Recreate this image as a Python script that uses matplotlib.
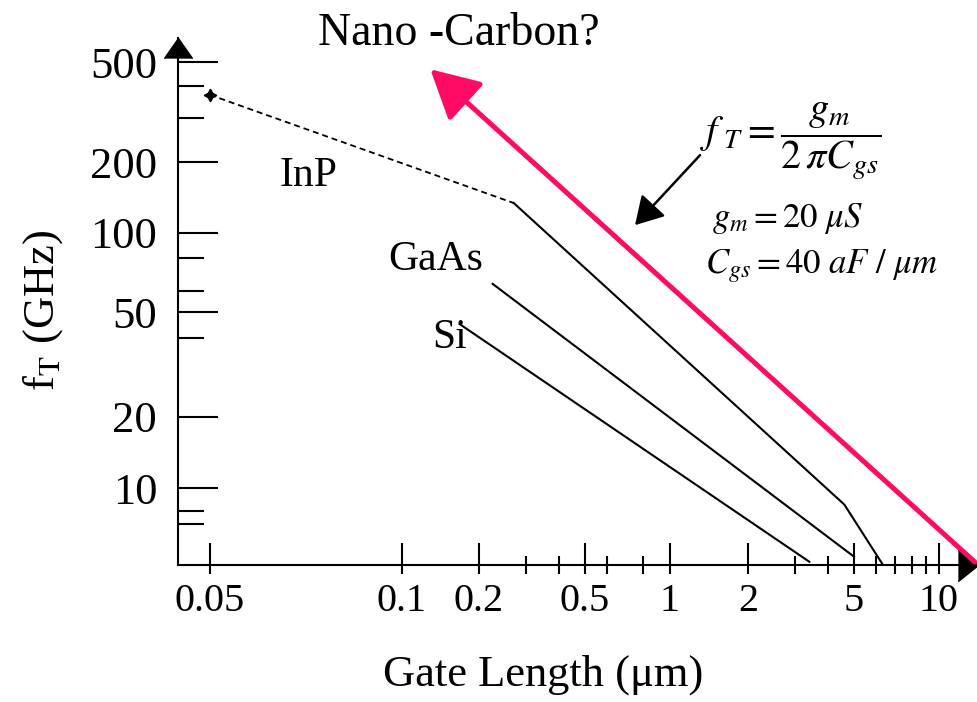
import numpy as np
import matplotlib
matplotlib.use("Agg")
import matplotlib.pyplot as plt

plt.rcParams['font.family'] = ['Liberation Serif', 'DejaVu Serif']
plt.rcParams['mathtext.fontset'] = 'stix'

# ---------------- data ----------------
x_tick_values = [0.05, 0.1, 0.2, 0.5, 1, 2, 5, 10]
x_tick_labels = ["0.05", "0.1", "0.2", "0.5", "1", "2", "5", "10"]
x_minor_values = [0.3, 0.4, 0.6, 0.8, 3, 4, 6, 7, 8, 9]
y_tick_values = [10, 20, 50, 100, 200, 500]
y_tick_labels = ["10", "20", "50", "100", "200", "500"]
y_minor_values = [7, 8, 40, 60, 80, 300, 400]

inp_dash_x = [0.05, 0.27]
inp_dash_y = [370, 134]
inp_solid_x = [0.27, 4.6, 6.3]
inp_solid_y = [134, 8.5, 4.75]
gaas_x = [0.225, 5.0]
gaas_y = [64, 5.1]
si_x = [0.168, 3.4]
si_y = [45, 4.85]

nano_tail = (13.4, 4.84)
nano_tip = (0.129, 468)
formula_tail = (1.306, 213)
formula_tip = (0.752, 108)

# ---------------- hand-drawn axis scales (irregular spacing of the original) ----------------
x_anchor_vals = [0.0445, 0.05, 0.1, 0.2, 0.5, 1, 2, 5, 10, 13.75]
x_anchor_pos = [178, 210, 402, 479, 585, 670, 748, 854, 939, 978]
y_anchor_vals = [4.7, 10, 20, 50, 100, 200, 500, 625]
y_anchor_pos = [137, 214, 285, 390, 469, 540, 640, 664]

def make_funcs(vals, pos):
    lv = np.log10(vals)
    pos = np.asarray(pos, float)
    def fwd(v):
        v = np.asarray(v, float)
        return np.interp(np.log10(np.clip(v, 1e-9, None)), lv, pos)
    def inv(p):
        return 10 ** np.interp(np.asarray(p, float), pos, lv)
    return fwd, inv

xf = make_funcs(x_anchor_vals, x_anchor_pos)
yf = make_funcs(y_anchor_vals, y_anchor_pos)

W, H = 978, 702
fig = plt.figure(figsize=(W / 100, H / 100), dpi=100)

def px(x, y):
    return x / W, 1 - y / H

left, right, top, bottom = 178, 978, 38, 565
ax = fig.add_axes([left / W, 1 - bottom / H, (right - left) / W, (bottom - top) / H])
ax.set_xscale('function', functions=xf)
ax.set_yscale('function', functions=yf)
ax.set_xlim(x_anchor_vals[0], x_anchor_vals[-1])
ax.set_ylim(y_anchor_vals[0], y_anchor_vals[-1])

for s in ['top', 'right']:
    ax.spines[s].set_visible(False)
for s in ['left', 'bottom']:
    ax.spines[s].set_linewidth(1.5)

# twin axis only for the part of major x ticks poking below the axis
ax2 = ax.twiny()
ax2.set_xscale('function', functions=xf)
ax2.set_xlim(ax.get_xlim())
ax2.set_xticks(x_tick_values)
ax2.xaxis.set_ticks_position('bottom')
ax2.tick_params(axis='x', which='major', direction='out', length=6.5, width=1.5,
                labelbottom=False, labeltop=False)
for s in ax2.spines.values():
    s.set_visible(False)
ax2.yaxis.set_visible(False)

ax.set_xticks(x_tick_values)
ax.set_xticklabels(x_tick_labels)
ax.set_xticks(x_minor_values, minor=True)
ax.set_yticks(y_tick_values)
ax.set_yticklabels(y_tick_labels)
ax.set_yticks(y_minor_values, minor=True)
ax.xaxis.set_minor_formatter(matplotlib.ticker.NullFormatter())
ax.yaxis.set_minor_formatter(matplotlib.ticker.NullFormatter())

ax.tick_params(axis='x', which='major', direction='in', length=16, width=1.5,
               labelsize=29, pad=13)
ax.tick_params(axis='x', which='minor', direction='inout', length=13.5, width=1.5)
ax.tick_params(axis='y', which='major', direction='in', length=29, width=1.5,
               labelsize=32, pad=15, left=True, labelleft=True)
ax.tick_params(axis='y', which='minor', direction='in', length=19, width=1.5)

# axis arrow heads
ax.plot([1], [0], marker=[(-1, 0.8), (0, 0), (-1, -0.8)], ms=29, color='k',
        transform=ax.transAxes, clip_on=False)
ax.plot([0], [1], marker=[(-0.7, -1), (0, 0), (0.7, -1)], ms=29, color='k',
        transform=ax.transAxes, clip_on=False)

# data lines
ax.plot(inp_dash_x, inp_dash_y, color='k', lw=1.3, ls=(0, (3.3, 2.2)))
ax.plot(inp_dash_x[:1], inp_dash_y[:1], marker=(4, 1, 0), ms=9, color='k')
ax.plot(inp_solid_x, inp_solid_y, color='k', lw=1.5)
ax.plot(gaas_x, gaas_y, color='k', lw=1.5)
ax.plot(si_x, si_y, color='k', lw=1.5)

# arrows
ax.annotate('', xy=nano_tip, xytext=nano_tail,
            arrowprops=dict(arrowstyle='-|>,head_length=1.5,head_width=0.8',
                            mutation_scale=20, lw=3.6, color='#FF0A64',
                            shrinkA=0, shrinkB=0), annotation_clip=False)
ax.annotate('', xy=formula_tip, xytext=formula_tail,
            arrowprops=dict(arrowstyle='-|>,head_length=0.85,head_width=0.5',
                            mutation_scale=20, lw=1.8, color='k',
                            shrinkA=0, shrinkB=0), annotation_clip=False)

# texts
fig.text(*px(318, 45), "Nano -Carbon?", fontsize=33, ha='left', va='baseline')
fig.text(*px(280, 186), "InP", fontsize=30, ha='left', va='baseline')
fig.text(*px(388, 270), "GaAs", fontsize=30, ha='left', va='baseline')
fig.text(*px(432, 348), "Si", fontsize=30, ha='left', va='baseline')
fig.text(*px(543, 686), "Gate Length (\u03bcm)", fontsize=32, ha='center', va='baseline')
fig.text(*px(43, 310), r"f$_{\mathrm{T}}$ (GHz)", fontsize=32, rotation=90,
         ha='center', va='center')

fig.text(*px(700, 142), r"$f_{\ T} = \dfrac{g_m}{2\,\pi C_{gs}}$", fontsize=29,
         ha='left', va='center')
fig.text(*px(712, 218), r"$g_m = 20\ \mu S$", fontsize=25, ha='left', va='center')
fig.text(*px(705, 266), r"$C_{gs} = 40\ aF\ /\ \mu m$", fontsize=25, ha='left', va='center')

fig.savefig("out.png", dpi=100)
